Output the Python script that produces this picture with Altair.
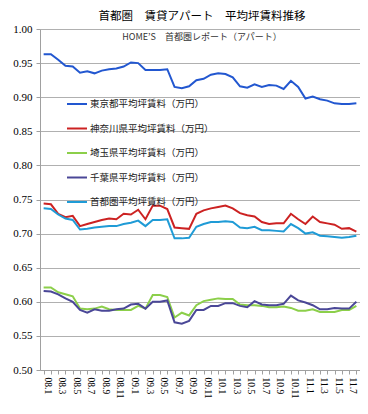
import altair as alt
import pandas as pd

months = ["08.1","08.2","08.3","08.4","08.5","08.6","08.7","08.8","08.9","08.10","08.11","08.12",
          "09.1","09.2","09.3","09.4","09.5","09.6","09.7","09.8","09.9","09.10","09.11","09.12",
          "10.1","10.2","10.3","10.4","10.5","10.6","10.7","10.8","10.9","10.10","10.11","10.12",
          "11.1","11.2","11.3","11.4","11.5","11.6","11.7","11.8"]

tokyo = [0.963,0.963,0.955,0.946,0.945,0.936,0.938,0.935,0.939,0.941,0.942,0.945,
         0.951,0.950,0.940,0.940,0.940,0.941,0.915,0.913,0.916,0.925,0.927,0.933,
         0.935,0.934,0.929,0.916,0.914,0.919,0.915,0.918,0.917,0.912,0.924,0.915,
         0.898,0.901,0.897,0.895,0.891,0.890,0.890,0.891]
kanagawa = [0.744,0.743,0.729,0.724,0.726,0.711,0.714,0.717,0.720,0.722,0.721,0.729,
            0.728,0.735,0.721,0.741,0.741,0.736,0.709,0.708,0.707,0.729,0.734,0.737,
            0.739,0.741,0.737,0.730,0.727,0.725,0.717,0.714,0.715,0.715,0.729,0.721,
            0.714,0.725,0.717,0.715,0.713,0.707,0.708,0.703]
saitama = [0.621,0.621,0.614,0.611,0.608,0.590,0.589,0.590,0.593,0.589,0.588,0.588,
           0.588,0.594,0.590,0.610,0.610,0.607,0.577,0.584,0.580,0.595,0.601,0.603,
           0.605,0.604,0.604,0.596,0.595,0.595,0.594,0.592,0.592,0.593,0.591,0.587,
           0.587,0.589,0.585,0.585,0.585,0.588,0.588,0.594]
chiba = [0.616,0.615,0.611,0.605,0.600,0.588,0.584,0.589,0.587,0.587,0.589,0.590,
         0.596,0.597,0.590,0.600,0.600,0.602,0.570,0.568,0.572,0.588,0.588,0.594,
         0.594,0.598,0.598,0.594,0.592,0.601,0.596,0.595,0.595,0.597,0.609,0.602,
         0.599,0.595,0.589,0.589,0.591,0.590,0.590,0.600]
shutoken = [0.737,0.736,0.728,0.722,0.720,0.706,0.707,0.709,0.710,0.711,0.711,0.714,
            0.716,0.719,0.711,0.720,0.720,0.721,0.693,0.693,0.694,0.710,0.714,0.717,
            0.717,0.718,0.717,0.709,0.708,0.710,0.705,0.705,0.704,0.703,0.714,0.708,
            0.700,0.702,0.697,0.696,0.695,0.694,0.695,0.697]

series = ["東京都平均坪賃料（万円）", "神奈川県平均坪賃料（万円）", "埼玉県平均坪賃料（万円）",
          "千葉県平均坪賃料（万円）", "首都圏平均坪賃料（万円）"]
colors = ["#2257d0", "#cc2222", "#8ccf4a", "#4a4797", "#1f9bd6"]
values = [tokyo, kanagawa, saitama, chiba, shutoken]

title_text = "首都圏　賃貸アパート　平均坪賃料推移"
subtitle_text = "HOME\u2019S　首都圏レポート（アパート）"

rows = []
for name, vals in zip(series, values):
    for m, v in zip(months, vals):
        rows.append({"month": m, "series": name, "value": v})
df = pd.DataFrame(rows)

JP = "Noto Sans CJK JP"
SERIF = "Liberation Serif"

lines = alt.Chart(df).mark_line(strokeWidth=2).encode(
    x=alt.X("month:O", sort=months, scale=alt.Scale(paddingInner=0, paddingOuter=0),
            axis=alt.Axis(title=None, labelAngle=90, labelAlign="left", labelBaseline="middle",
                          labelFont=SERIF, labelFontSize=9.5, labelColor="#000",
                          labelExpr="toNumber(split(datum.value,'.')[1]) % 2 == 1 ? datum.value : ''",
                          bandPosition=0, labelOffset=3.6, tickSize=4, tickColor="#a0a0a0",
                          domainColor="#a0a0a0", grid=False, labelPadding=3)),
    y=alt.Y("value:Q", scale=alt.Scale(domain=[0.5, 1.0], zero=False, nice=False),
            axis=alt.Axis(title=None, values=[0.5,0.55,0.6,0.65,0.7,0.75,0.8,0.85,0.9,0.95,1.0],
                          format=".2f", labelFont=SERIF, labelFontSize=11, labelColor="#000",
                          tickSize=4, tickColor="#a0a0a0", domainColor="#a0a0a0",
                          gridColor="#b0b0b0", labelPadding=4)),
    color=alt.Color("series:N", sort=series,
                    scale=alt.Scale(domain=series, range=colors),
                    legend=alt.Legend(title=None, orient="none", legendX=26, legendY=64,
                                      symbolType="stroke", symbolStrokeWidth=2, symbolSize=400,
                                      labelFont=JP, labelFontSize=9.5, labelColor="#222",
                                      rowPadding=8.5, labelOffset=2)),
)

title = alt.Chart(pd.DataFrame({"t": [title_text]})).mark_text(
    font=JP, fontSize=11.5, color="#000", baseline="middle"
).encode(text="t:N", x=alt.value(162), y=alt.value(-12))

sub = alt.Chart(pd.DataFrame({"t": [subtitle_text]})).mark_text(
    font=JP, fontSize=9, color="#333", baseline="middle"
).encode(text="t:N", x=alt.value(162), y=alt.value(8))

chart = alt.layer(lines, title, sub).properties(
    width=320, height=341,
    autosize=alt.AutoSizeParams(type="none"),
    padding={"left": 32, "top": 21, "right": 0, "bottom": 36},
).configure_view(stroke=None).configure(background="white")

chart.save("out.html", embed_options={"renderer": "svg", "actions": False})
